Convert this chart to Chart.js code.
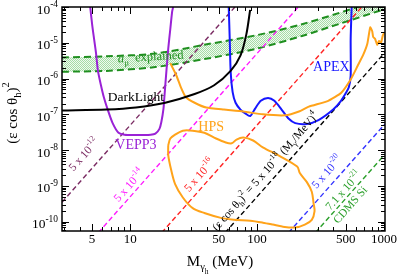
<!DOCTYPE html>
<html>
<head>
<meta charset="utf-8">
<script src="https://cdn.jsdelivr.net/npm/chart.js@4.4.0/dist/chart.umd.min.js"></script>
<style>
  html, body { margin: 0; padding: 0; background: #fff; }
</style>
</head>
<body>
<canvas id="chart" width="399" height="275"></canvas>
<script>
// ====== Data (mass in MeV, (eps cos theta_h)^2) ======
const xRange = [2.9, 1020];
const yRange = [5.5e-11, 1e-4];

const xMajor = [5, 10, 50, 100, 500, 1000];
const xMinor = [3, 4, 6, 7, 8, 9, 20, 30, 40, 60, 70, 80, 90, 200, 300, 400, 600, 700, 800, 900];
const yDecades = [-4, -5, -6, -7, -8, -9, -10];

// a_mu explained band
const bandHiM = [2.9, 6.5, 15.8, 38.4, 100, 226, 620, 1020];
const bandHiE = [3.9e-6, 4.2e-6, 5.0e-6, 8.8e-6, 1.64e-5, 3.3e-5, 1.0e-4, 1.8e-4];
const bandLoM = [2.9, 6.5, 15.8, 38.4, 100, 226, 459, 1020];
const bandLoE = [1.55e-6, 1.64e-6, 2.1e-6, 3.5e-6, 6.9e-6, 1.55e-5, 3.5e-5, 8.8e-5];

// (eps cos theta)^2 = C (M/MeV)^4 guide lines, end points
const d12M = [2.9, 66.9],  d12E = [3.5e-10, 1e-4];
const d14M = [5.6, 211],   d14E = [4.9e-11, 1e-4];
const d16M = [17.7, 669],  d16E = [4.9e-11, 1e-4];
const d18M = [56, 1020],   d18E = [4.9e-11, 5.4e-6];
const d20M = [177, 1020],  d20E = [4.9e-11, 5.4e-8];
const cdmsM = [288, 1020], cdmsE = [4.9e-11, 7.7e-9];

const darkM = [2.9, 6.5, 11.1, 18.9, 32.2, 45.9, 61.9, 74.1, 82.4, 88.2];
const darkE = [1.28e-7, 1.36e-7, 1.55e-7, 2.11e-7, 3.7e-7, 6.5e-7, 1.64e-6, 4.45e-6, 1.75e-5, 8.3e-5];

const veppM = [4.84, 5.01, 5.19, 5.38, 5.57, 5.88, 6.19, 6.65, 7.27, 8.09, 9.0, 11.1, 14.5, 15.8,
               17.0, 17.6, 18.3, 18.6, 19.3, 19.95, 20.7, 21.4, 21.8];
const veppE = [1e-4, 3.27e-5, 1.28e-5, 5.05e-6, 1.64e-6, 6.5e-7, 3.06e-7, 1.36e-7, 5.7e-8, 3.06e-8, 2.7e-8, 2.65e-8, 2.7e-8, 2.88e-8,
               3.94e-8, 6.1e-8, 1.45e-7, 3.06e-7, 1.64e-6, 6.9e-6, 2.39e-5, 7.3e-5, 1e-4];

const hpsM = [20.7, 23.0, 25.1, 27.4, 32.2, 39.8, 54.8, 78.0, 111, 167, 214, 256, 364, 459, 547,
              620, 689, 740, 780, 809, 823, 853, 884, 916, 949, 982, 1015];
const hpsE = [2.71e-6, 1.28e-6, 5.7e-7, 3.06e-7, 2.11e-7, 1.55e-7, 1.36e-7, 1.2e-7, 1.0e-7, 9.4e-8, 1.2e-7, 1.64e-7, 2.39e-7, 3.94e-7, 9.4e-7,
              2.25e-6, 4.75e-6, 9.4e-6, 2.71e-5, 2.11e-5, 1.45e-5, 1.28e-5, 8.8e-6, 1.13e-5, 1e-5, 1.64e-5, 1.98e-5];

const hpsIslandM = [19.95, 20.7, 22.6, 26.0, 31.1, 38.4, 47.5, 56.7, 63.1, 68.9, 78.0, 93.1, 111, 150, 207, 218, 247, 270, 279, 284,
                    270, 238, 200, 158, 133, 111, 88.3, 65.4, 51.9, 38.4, 31.1, 26.0, 22.6, 21.0, 19.95, 19.95];
const hpsIslandE = [1.36e-8, 2.11e-8, 2.7e-8, 3.5e-8, 3.5e-8, 3.06e-8, 2.11e-8, 1.64e-8, 1.55e-8, 1.98e-8, 2.25e-8, 1.86e-8, 1.2e-8, 6.9e-9, 3.47e-9, 2.25e-9, 1.28e-9, 6.9e-10, 3.27e-10, 1.98e-10,
                    1.13e-10, 8.3e-11, 6.9e-11, 7.3e-11, 8.3e-11, 9.4e-11, 1.06e-10, 1.13e-10, 1.28e-10, 1.75e-10, 2.39e-10, 4.75e-10, 1.13e-9, 2.88e-9, 7.3e-9, 1.36e-8];

const apexM = [59.8, 60.9, 62.0, 64.2, 67.7, 74.0, 80.8, 88.3, 96.5, 107, 122, 137, 156, 176, 200, 247, 305, 398, 459, 501, 529, 547, 547, 557];
const apexE = [1e-4, 1.28e-5, 1.45e-6, 4.19e-7, 2.11e-7, 1.36e-7, 1.06e-7, 9e-8, 1.45e-7, 2.39e-7, 2.88e-7, 2.39e-7, 1.36e-7, 7.8e-8, 5.7e-8, 5.4e-8, 6.9e-8, 1.36e-7, 2.39e-7, 3.94e-7, 5.7e-7, 1.2e-6, 1.28e-5, 1e-4];

// ====== Colours / fonts ======
const FONT = '"Liberation Serif", "Times New Roman", serif';
const C_GREEN = '#1f8f1f', C_MAROON = '#7a2a62', C_MAG = '#ff1aff', C_RED = '#ff2222',
      C_BLUE = '#3333ff', C_CDMS = '#2a9f2a', C_VEPP = '#9a22d6', C_HPS = '#ffa31a', C_APEX = '#1616ff';

// ====== Helpers ======
const pts = (m, e) => m.map((v, i) => ({ x: v, y: e[i] }));
const curve = (label, m, e, color, extra = {}) => Object.assign({
  label, data: pts(m, e), borderColor: color, borderWidth: 2, pointRadius: 0,
  showLine: true, fill: false, tension: 0.3, order: 1
}, extra);
const guide = (label, m, e, color) => curve(label, m, e, color, { borderWidth: 1.4, borderDash: [5, 3], tension: 0, order: 5 });

function hatch() {
  const c = document.createElement('canvas');
  c.width = 2; c.height = 2;
  const g = c.getContext('2d');
  g.fillStyle = '#f0faf0'; g.fillRect(0, 0, 2, 2);
  g.fillStyle = '#a6dca6'; g.fillRect(0, 0, 1, 1); g.fillRect(1, 1, 1, 1);
  return g.createPattern(c, 'repeat');
}

// text with super/subscripts: parts = [{t, s: scale, dy: shift in em, it}]
function rich(ctx, x, y, parts, { size = 13, color = '#000', angle = 0, align = 'center', lift = 0 } = {}) {
  ctx.save();
  ctx.translate(x, y);
  ctx.rotate(angle);
  ctx.fillStyle = color;
  ctx.textBaseline = 'middle';
  ctx.textAlign = 'left';
  const fontOf = p => `${p.it ? 'italic ' : ''}${size * (p.s || 1)}px ${FONT}`;
  let w = 0;
  for (const p of parts) { ctx.font = fontOf(p); w += ctx.measureText(p.t).width; }
  let cx = align === 'center' ? -w / 2 : (align === 'right' ? -w : 0);
  for (const p of parts) {
    ctx.font = fontOf(p);
    ctx.fillText(p.t, cx, (p.dy || 0) * size - lift);
    cx += ctx.measureText(p.t).width;
  }
  ctx.restore();
}
const T = t => ({ t });
const sup = t => ({ t, s: 0.7, dy: -0.42 });
const sub = t => ({ t, s: 0.7, dy: 0.32 });

// ====== Frame, inward ticks, axis text, annotations ======
const decor = {
  id: 'decor',
  afterDraw(chart) {
    const { ctx, chartArea: a, scales: { x, y } } = chart;
    ctx.save();
    ctx.strokeStyle = '#000';
    ctx.lineWidth = 1;
    ctx.beginPath();
    const xt = xMajor.map(v => [v, 7]).concat(xMinor.map(v => [v, 4]));
    for (const [v, len] of xt) {
      const px = Math.round(x.getPixelForValue(v)) + 0.5;
      ctx.moveTo(px, a.bottom); ctx.lineTo(px, a.bottom - len);
      ctx.moveTo(px, a.top); ctx.lineTo(px, a.top + len);
    }
    const yt = yDecades.map(e => [Math.pow(10, e), 7]);
    for (let e = -11; e <= -5; e++) {
      for (let k = 2; k <= 9; k++) {
        const v = k * Math.pow(10, e);
        if (v > yRange[0] && v < yRange[1]) yt.push([v, 4]);
      }
    }
    for (const [v, len] of yt) {
      const py = Math.round(y.getPixelForValue(v)) + 0.5;
      ctx.moveTo(a.left, py); ctx.lineTo(a.left + len, py);
      ctx.moveTo(a.right, py); ctx.lineTo(a.right - len, py);
    }
    ctx.stroke();
    ctx.lineWidth = 1.5;
    ctx.strokeRect(a.left, a.top, a.right - a.left, a.bottom - a.top);
    ctx.restore();

    // tick labels
    for (const v of xMajor) {
      rich(ctx, x.getPixelForValue(v), a.bottom + 9, [T(String(v))], { size: 13 });
    }
    for (const e of yDecades) {
      rich(ctx, a.left - 4, y.getPixelForValue(Math.pow(10, e)) + 3, [T('10'), sup(String(e))], { size: 13.5, align: 'right' });
    }

    // axis titles
    rich(ctx, 220, 262, [T('M'), { t: 'γ', s: 0.7, dy: 0.35 }, { t: 'h', s: 0.5, dy: 0.7 }, T(' (MeV)')], { size: 15 });
    rich(ctx, 13, 113, [T('(ε cos θ'), sub('h'), T(')'), sup('2')], { size: 15, angle: -Math.PI / 2 });

    // guide-line labels, rotated along the lines
    const p1 = [x.getPixelForValue(d12M[0]), y.getPixelForValue(d12E[0])];
    const p2 = [x.getPixelForValue(d12M[1]), y.getPixelForValue(d12E[1])];
    const ang = Math.atan2(p2[1] - p1[1], p2[0] - p1[0]);
    const at = (m, e) => [x.getPixelForValue(m), y.getPixelForValue(e)];
    const diagLabel = (m, e, parts, color, lift = 0) => {
      const [px, py] = at(m, e);
      rich(ctx, px, py, parts, { size: 11.5, color, angle: ang, lift });
    };
    diagLabel(4.35, 7.3e-9, [T('5 x 10'), sup('-12')], C_MAROON);
    diagLabel(10.7, 7.8e-10, [T('5 x 10'), sup('-14')], C_MAG, 6);
    diagLabel(35.8, 1.86e-9, [T('5 x 10'), sup('-16')], C_RED, 1);
    diagLabel(122, 2.18e-9, [T('(ε cos θ'), sub('h'), T(')'), sup('2'), T(' = 5 x 10'), sup('-18'),
                             T(' (M'), sub('γ'), T('/MeV)'), sup('4')], '#000', 3);
    diagLabel(358, 2.39e-9, [T('5 x 10'), sup('-20')], C_BLUE);
    diagLabel(484, 7.3e-10, [T('7.1 x 10'), sup('-21')], C_CDMS);
    diagLabel(547, 2.88e-10, [T('CDMS Si')], C_CDMS);

    // curve labels
    let p;
    p = at(14.5, 3.95e-6);
    rich(ctx, p[0], p[1], [{ t: 'a', it: true }, { t: 'μ', s: 0.7, dy: 0.35 }, T('  explained')], { size: 12.5, color: C_GREEN, angle: -0.06 });
    p = at(11.1, 3.06e-7);
    rich(ctx, p[0], p[1], [T('DarkLight')], { size: 13.5 });
    p = at(11.1, 1.36e-8);
    rich(ctx, p[0], p[1], [T('VEPP3')], { size: 14, color: C_VEPP });
    p = at(43.5, 4.45e-8);
    rich(ctx, p[0], p[1], [T('HPS')], { size: 14, color: C_HPS });
    p = at(385, 2.11e-6);
    rich(ctx, p[0], p[1], [T('APEX')], { size: 14, color: C_APEX });
  }
};

// ====== Chart ======
const chart = new Chart(document.getElementById('chart').getContext('2d'), {
  type: 'scatter',
  data: {
    datasets: [
      curve('amuHi', bandHiM, bandHiE, C_GREEN, { borderDash: [7, 4], fill: '+1', backgroundColor: hatch(), order: 10 }),
      curve('amuLo', bandLoM, bandLoE, C_GREEN, { borderDash: [7, 4], order: 10 }),
      guide('5e-12', d12M, d12E, C_MAROON),
      guide('5e-14', d14M, d14E, C_MAG),
      guide('5e-16', d16M, d16E, C_RED),
      guide('5e-18', d18M, d18E, '#000'),
      guide('5e-20', d20M, d20E, C_BLUE),
      guide('CDMS', cdmsM, cdmsE, C_CDMS),
      curve('DarkLight', darkM, darkE, '#000'),
      curve('VEPP3', veppM, veppE, C_VEPP, { tension: 0.25 }),
      curve('HPS', hpsM, hpsE, C_HPS, { tension: 0.15 }),
      curve('HPS2', hpsIslandM, hpsIslandE, C_HPS, { tension: 0.3 }),
      curve('APEX', apexM, apexE, C_APEX, { tension: 0.25 })
    ]
  },
  options: {
    responsive: false,
    animation: false,
    events: [],
    layout: { padding: { left: 54, top: 7, right: 14, bottom: 36 } },
    plugins: {
      legend: { display: false },
      tooltip: { enabled: false },
      filler: { drawTime: 'beforeDatasetsDraw' }
    },
    scales: {
      x: {
        type: 'logarithmic', min: xRange[0], max: xRange[1],
        ticks: { display: false }, grid: { display: false }, border: { display: false }
      },
      y: {
        type: 'logarithmic', min: yRange[0], max: yRange[1],
        ticks: { display: false }, grid: { display: false }, border: { display: false }
      }
    }
  },
  plugins: [decor]
});
</script>
</body>
</html>
